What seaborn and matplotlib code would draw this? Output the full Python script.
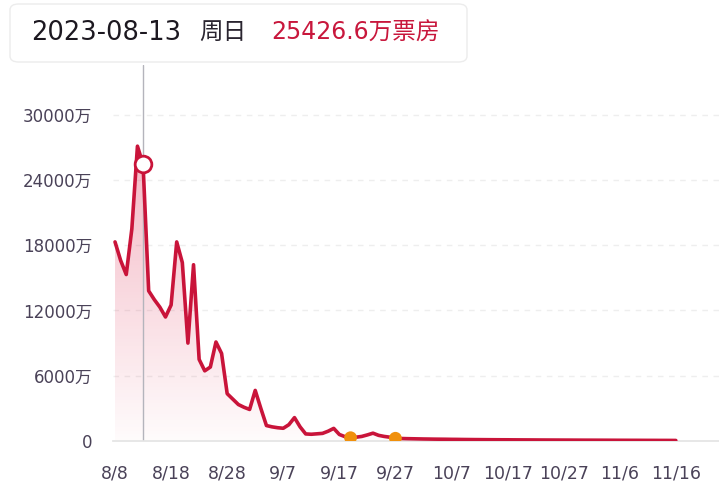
import numpy as np
import pandas as pd
import matplotlib.pyplot as plt
import seaborn as sns
from matplotlib.patches import FancyBboxPatch

# daily box office (万元), 8/8 .. 11/16
start_date = "2023-08-08"
box_office = [
    18300, 16600, 15300, 19500, 27100, 25426.6, 13800, 13000, 12300, 11400,
    12500, 18300, 16400, 9000, 16200, 7500, 6450, 6800, 9100, 8050,
    4350, 3850, 3350, 3100, 2900, 4650, 3000, 1420, 1300, 1220,
    1170, 1500, 2150, 1300, 650, 620, 660, 700, 900, 1160,
    600, 400, 300, 350, 420, 560, 720, 520, 420, 350,
    250, 230, 215, 205, 195, 185, 178, 170, 165, 160,
    152, 148, 140, 135, 130, 126, 122, 118, 115, 112,
    110, 106, 103, 100, 98, 95, 92, 90, 88, 86,
    84, 82, 80, 78, 76, 75, 73, 72, 70, 68,
    66, 65, 63, 62, 60, 58, 57, 55, 54, 52, 50,
]
highlight_dates = ["2023-09-19", "2023-09-27"]
selected_date = "2023-08-13"
selected_weekday = "周日"
y_ticks = [0, 6000, 12000, 18000, 24000, 30000]
tick_every = 10

line_color = "#c9143a"
text_color = "#4a4258"

sns.set_theme(style="white")
plt.rcParams["font.family"] = ["DejaVu Sans", "Noto Sans CJK SC"]

dates = pd.date_range(start_date, periods=len(box_office))
df = pd.DataFrame({"day": np.arange(len(dates)), "date": dates, "value": box_office})
sel = df[df["date"] == pd.Timestamp(selected_date)].iloc[0]
hl = df[df["date"].isin(pd.to_datetime(highlight_dates))]

fig = plt.figure(figsize=(7.19, 4.94), dpi=100)
ax = fig.add_axes([113 / 719, 53 / 494, 606 / 719, 376 / 494])

# gradient fill under the curve
poly = ax.fill_between(df["day"], df["value"], 0, color="none", lw=0)
rgba = np.zeros((256, 1, 4))
rgba[..., 0], rgba[..., 1], rgba[..., 2] = 0.88, 0.22, 0.36
rgba[..., 3] = np.linspace(0.36, 0.02, 256)[:, None]
im = ax.imshow(rgba, extent=[0, len(df) - 1, 0, max(box_office)],
               aspect="auto", origin="upper", zorder=1)
im.set_clip_path(poly.get_paths()[0], transform=ax.transData)

sns.lineplot(data=df, x="day", y="value", color=line_color, lw=2.6,
             solid_joinstyle="round", zorder=3, ax=ax)
sns.scatterplot(data=hl, x="day", y="value", color="#f0900c", s=85,
                edgecolor="none", zorder=4, ax=ax)

ax.axvline(sel["day"], color="#b4b4bc", lw=1, zorder=2)
ax.plot(sel["day"], sel["value"], "o", ms=12, mfc="white", mec=line_color,
        mew=2, zorder=5)

ax.set_xlim(-0.36, 107.7)
ax.set_ylim(0, 34560)
ax.set_yticks(y_ticks)
ax.set_yticklabels([f"{v}万" if v else "0" for v in y_ticks])
xt = df["day"][::tick_every]
ax.set_xticks(xt)
ax.set_xticklabels([f"{d.month}/{d.day}" for d in df["date"][::tick_every]])
ax.set_xlabel("")
ax.set_ylabel("")
ax.tick_params(axis="y", length=0, pad=15, labelsize=12, labelcolor=text_color)
ax.tick_params(axis="x", length=0, pad=17, labelsize=12.5, labelcolor=text_color)

for v in y_ticks[1:]:
    ax.axhline(v, color="#eeeeee", lw=1, ls=(0, (4, 4)), zorder=0)
for s in ["left", "right", "top"]:
    ax.spines[s].set_visible(False)
ax.spines["bottom"].set_color("#e4e4e4")

# tooltip box
box = FancyBboxPatch((10 / 719, 1 - 62 / 494), 457 / 719, 58 / 494,
                     boxstyle="round,pad=0,rounding_size=0.012",
                     transform=fig.transFigure, facecolor="white",
                     edgecolor="#ececec", lw=1, zorder=10)
fig.patches.append(box)
fig.text(31 / 719, 1 - 33 / 494, selected_date, va="center", fontsize=18.5,
         color="#1c1820", zorder=11)
fig.text(199 / 719, 1 - 33 / 494, selected_weekday, va="center", fontsize=17,
         color="#2a2530", zorder=11)
fig.text(271 / 719, 1 - 33 / 494, f"{sel['value']}万票房", va="center",
         fontsize=17, color="#c8173c", zorder=11)

fig.savefig("out.png", dpi=100)
